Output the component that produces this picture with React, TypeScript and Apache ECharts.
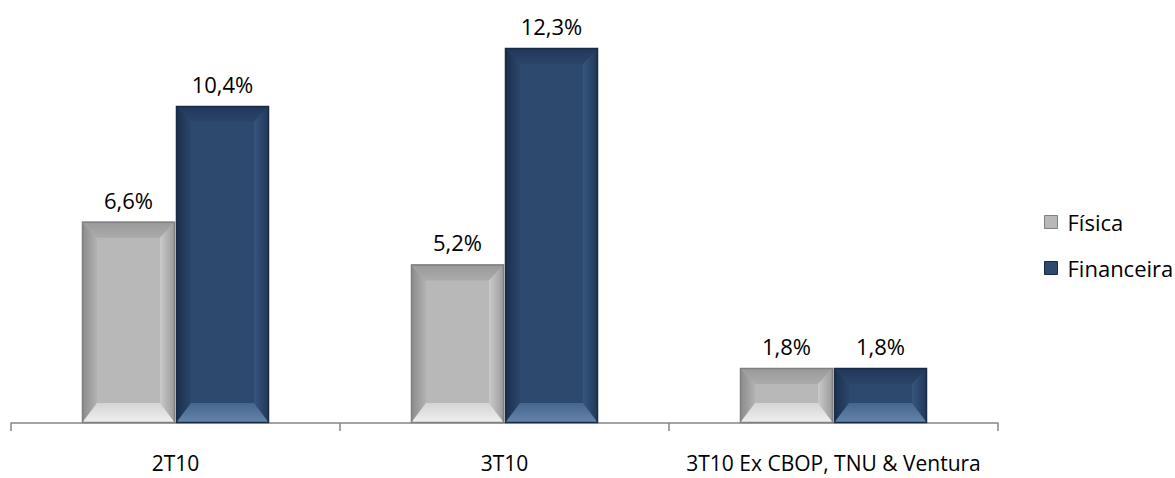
import React, { useEffect, useRef } from "react";
import * as echarts from "echarts";

// Categories and values (percent)
const categories = ["2T10", "3T10", "3T10 Ex CBOP, TNU & Ventura"];
const fisica = [6.6, 5.2, 1.8];
const financeira = [10.4, 12.3, 1.8];
const seriesNames = ["Física", "Financeira"];

const FONT = "'Open Sans', 'Noto Sans', sans-serif";

type Palette = {
  border: string;
  face: string;
  left: [string, string];
  right: [string, string];
  top: [string, string];
  bottom: [string, string];
};

const GRAY: Palette = {
  border: "#808080",
  face: "#b8b8b8",
  left: ["#8a8a8a", "#b2b2b2"],
  right: ["#cacaca", "#999999"],
  top: ["#999999", "#ababab"],
  bottom: ["#d4d4d4", "#f0f0f0"],
};

const NAVY: Palette = {
  border: "#1a2a44",
  face: "#2d496e",
  left: ["#1b2f4e", "#2a466a"],
  right: ["#36567f", "#203757"],
  top: ["#20375a", "#2a4568"],
  bottom: ["#45668f", "#6685ab"],
};

const BAR_W = 93;
const BAR_SHIFT = 47;

const lin = (vertical: boolean, a: string, b: string) => ({
  type: "linear",
  x: 0,
  y: 0,
  x2: vertical ? 0 : 1,
  y2: vertical ? 1 : 0,
  colorStops: [
    { offset: 0, color: a },
    { offset: 1, color: b },
  ],
});

const fmt = (v: number) => v.toFixed(1).replace(".", ",") + "%";

// Beveled bar drawn from the category scale and value scale
function bevelRenderer(p: Palette, side: number) {
  return (_params: any, api: any) => {
    const idx = api.value(0);
    const val = api.value(1);
    const top = api.coord([idx, val]);
    const base = api.coord([idx, 0]);
    const cx = top[0] + side * BAR_SHIFT;
    const x0 = cx - BAR_W / 2;
    const x1 = cx + BAR_W / 2;
    const y0 = top[1];
    const y1 = base[1];
    const h = y1 - y0;
    const dx = 15;
    let dt = 16;
    let db = 20;
    if (dt + db > h - 10) {
      const k = (h - 10) / (dt + db);
      dt *= k;
      db *= k;
    }
    return {
      type: "group",
      children: [
        {
          type: "rect",
          shape: { x: x0, y: y0, width: BAR_W, height: h },
          style: { fill: p.face },
        },
        {
          type: "polygon",
          shape: { points: [[x0, y0], [x1, y0], [x1 - dx, y0 + dt], [x0 + dx, y0 + dt]] },
          style: { fill: lin(true, p.top[0], p.top[1]) },
        },
        {
          type: "polygon",
          shape: { points: [[x0, y0], [x0 + dx, y0 + dt], [x0 + dx, y1 - db], [x0, y1]] },
          style: { fill: lin(false, p.left[0], p.left[1]) },
        },
        {
          type: "polygon",
          shape: { points: [[x1 - dx, y0 + dt], [x1, y0], [x1, y1], [x1 - dx, y1 - db]] },
          style: { fill: lin(false, p.right[0], p.right[1]) },
        },
        {
          type: "polygon",
          shape: { points: [[x0 + dx, y1 - db], [x1 - dx, y1 - db], [x1, y1], [x0, y1]] },
          style: { fill: lin(true, p.bottom[0], p.bottom[1]) },
        },
        {
          type: "rect",
          shape: { x: x0 + 0.5, y: y0 + 0.5, width: BAR_W - 1, height: h - 1 },
          style: { fill: "none", stroke: p.border, lineWidth: 1.5 },
        },
        {
          type: "text",
          style: {
            text: fmt(val),
            x: cx,
            y: y0 - 11,
            align: "center",
            verticalAlign: "bottom",
            fontSize: 22,
            fontFamily: FONT,
            fill: "#000",
          },
        },
      ],
    };
  };
}

export default function App() {
  const ref = useRef<HTMLDivElement>(null);

  useEffect(() => {
    if (!ref.current) return;
    const chart = echarts.init(ref.current, null, { renderer: "svg" });
    chart.setOption({
      animation: false,
      backgroundColor: "#ffffff",
      grid: { left: 11, right: 177, top: 11.4, bottom: 55, containLabel: false },
      legend: {
        orient: "vertical",
        left: 1039,
        top: 206,
        icon: "rect",
        itemWidth: 13,
        itemHeight: 13,
        itemGap: 24,
        textStyle: { fontSize: 22, fontFamily: FONT, color: "#000", padding: [0, 0, 0, 5] },
        data: [
          { name: seriesNames[0], itemStyle: { color: GRAY.face, borderColor: GRAY.border, borderWidth: 1 } },
          { name: seriesNames[1], itemStyle: { color: NAVY.face, borderColor: NAVY.border, borderWidth: 1 } },
        ],
      },
      xAxis: {
        type: "category",
        data: categories,
        axisLine: { show: true, lineStyle: { color: "#868686", width: 1.5 } },
        axisTick: { show: true, length: 8, lineStyle: { color: "#868686", width: 1.5 } },
        axisLabel: {
          fontSize: 21,
          lineHeight: 18,
          fontFamily: FONT,
          color: "#000",
          margin: 31,
          interval: 0,
        },
      },
      yAxis: { type: "value", min: 0, max: 13.5, show: false, splitLine: { show: false } },
      series: [
        {
          type: "custom",
          name: seriesNames[0],
          itemStyle: { color: GRAY.face },
          clip: false,
          encode: { x: 0, y: 1 },
          data: fisica.map((v, i) => [i, v]),
          renderItem: bevelRenderer(GRAY, -1),
        },
        {
          type: "custom",
          name: seriesNames[1],
          itemStyle: { color: NAVY.face },
          clip: false,
          encode: { x: 0, y: 1 },
          data: financeira.map((v, i) => [i, v]),
          renderItem: bevelRenderer(NAVY, 1),
        },
      ],
    });
    return () => chart.dispose();
  }, []);

  return (
    <div
      ref={ref}
      style={{ position: "fixed", left: 0, top: 0, width: 1175, height: 478 }}
    />
  );
}
